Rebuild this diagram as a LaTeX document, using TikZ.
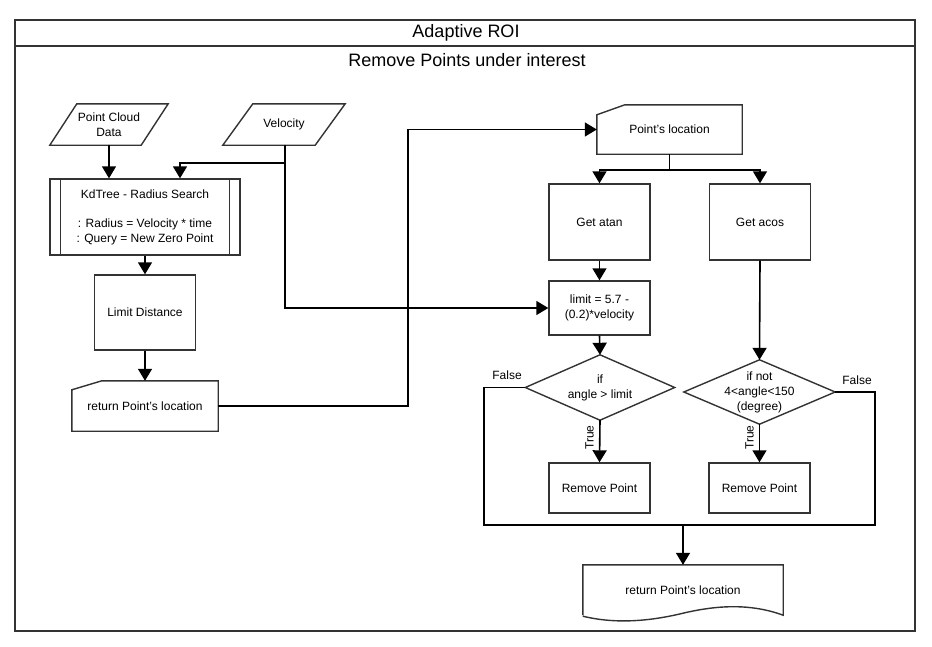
\documentclass[tikz,border=0pt]{standalone}
\usepackage{fontspec}
\setmainfont{Liberation Sans}
\usetikzlibrary{arrows.meta,calc}
\definecolor{edge}{HTML}{333333}
\begin{document}
\begin{tikzpicture}[x=1pt,y=-1pt,
  shp/.style={draw=edge, line width=1.4pt},
  txt/.style={font=\fontsize{12}{15}\selectfont, align=center, inner sep=0pt},
  box/.style={shp, txt, rectangle},
  con/.style={line width=1.6pt, draw=black, -{Triangle[width=14pt,length=12pt]}},
  ln/.style={line width=1.6pt, draw=black},
  lbl/.style={font=\fontsize{12}{14}\selectfont, inner sep=0pt},
  ttl/.style={font=\fontsize{18}{20}\selectfont, inner sep=0pt},
]
\useasboundingbox (0,0) rectangle (932,646);
\fill[white] (0,0) rectangle (932,646);

% frame
\draw[line width=1.6pt, draw=edge] (15,20) rectangle (915,631);
\draw[line width=1.6pt, draw=edge] (15,46) -- (915,46);
\node[ttl] (title) at (466,33) {Adaptive ROI};
\node[ttl] (sub) at (467,60) {Remove Points under interest};

% left column
\node[txt, minimum width=118, minimum height=41] (pcd) at (109,124.5) {Point Cloud\\Data};
\draw[shp] ([xshift=27pt]pcd.north west) -- (pcd.north east) -- ([xshift=-27pt]pcd.south east) -- (pcd.south west) -- cycle;

\node[txt, minimum width=122, minimum height=41] (vel) at (284,124.5) {Velocity};
\draw[shp] ([xshift=30pt]vel.north west) -- (vel.north east) -- ([xshift=-30pt]vel.south east) -- (vel.south west) -- cycle;

\node[box, minimum width=190, minimum height=76] (kd) at (145,217)
  {KdTree - Radius Search\\[14pt]: Radius = Velocity * time\\: Query = New Zero Point};
\draw[shp] ([xshift=11pt]kd.north west) -- ([xshift=11pt]kd.south west);
\draw[shp] ([xshift=-11pt]kd.north east) -- ([xshift=-11pt]kd.south east);

\node[box, minimum width=101, minimum height=75] (lim) at (145,312.5) {Limit Distance};

\node[txt, minimum width=146, minimum height=50] (ret1) at (145,406) {return Point's location};
\draw[shp] ([yshift=-9pt]ret1.north west) -- ([xshift=30pt]ret1.north west) -- (ret1.north east) -- (ret1.south east) -- (ret1.south west) -- cycle;

% right part
\node[txt, minimum width=145, minimum height=49] (ploc) at (669.5,129.5) {Point's location};
\draw[shp] ([yshift=-10pt]ploc.north west) -- ([xshift=28pt]ploc.north west) -- (ploc.north east) -- (ploc.south east) -- (ploc.south west) -- cycle;

\node[box, minimum width=101, minimum height=76] (atan) at (599.5,222) {Get atan};
\node[box, minimum width=101, minimum height=76] (acos) at (760,222) {Get acos};

\node[box, minimum width=101, minimum height=54] (limit) at (599.5,308) {limit = 5.7 -\\(0.2)*velocity};

\node[txt, minimum width=149, minimum height=65] (d1) at (600,387.5) {if\\angle \textgreater{} limit};
\draw[shp] (d1.north) -- (d1.east) -- (d1.south) -- (d1.west) -- cycle;

\node[txt, minimum width=151, minimum height=64] (d2) at (759.5,392) {if not\\4\textless{}angle\textless{}150\\(degree)};
\draw[shp] (d2.north) -- (d2.east) -- (d2.south) -- (d2.west) -- cycle;

\node[box, minimum width=101, minimum height=50] (rm1) at (599.5,488) {Remove Point};
\node[box, minimum width=101, minimum height=50] (rm2) at (759.5,488) {Remove Point};

\node[txt, minimum width=200, minimum height=50] (ret2) at (683,590) {return Point's location};
\draw[shp] (ret2.south west) -- (ret2.north west) -- (ret2.north east) -- ([yshift=0pt]ret2.south east)
  .. controls +(-33,-12) and +(34,-8) .. ([yshift=2pt]ret2.south)
  .. controls +(-33,8) and +(33,8) .. ([yshift=-1pt]ret2.south west);

% connectors
\draw[con] (pcd.south) -- (pcd.south |- kd.north);
\coordinate (vb) at ($(vel.south)+(1,18)$);
\draw[ln] ($(vel.south)+(1,0)$) -- (vb);
\draw[con] ($(vel.south)+(1,0)$) |- (limit.west);
\draw[con] (vb) -| ([xshift=35pt]kd.north);
\draw[con] (kd.south) -- (lim.north);
\draw[con] (lim.south) -- (ret1.north);
\draw[con] (ret1.east) -- ++(190,0) |- (ploc.west);

\coordinate (sp) at ($(ploc.south)+(0,16)$);
\draw[ln] (ploc.south) -- (sp);
\draw[con] (sp) -| (atan.north);
\draw[con] (sp) -| (acos.north);
\draw[con] (atan.south) -- (limit.north);
\draw[con] (limit.south) -- (d1.north);
\draw[con] (acos.south) -- (d2.north);
\draw[con] (d1.south) -- (rm1.north);
\draw[con] (d2.south) -- (rm2.north);

\coordinate (fl) at (484,525);
\coordinate (fr) at (875,525);
\coordinate (mj) at (683,525);
\draw[ln] (d1.west) -| (fl) -- (fr) |- (d2.east);
\draw[con] (mj) -- (ret2.north);

% labels
\node[lbl] (f1) at (507,375) {False};
\node[lbl] (f2) at (857,380) {False};
\node[lbl, rotate=90] (t1) at (589.5,437.5) {True};
\node[lbl, rotate=90] (t2) at (749.5,437.5) {True};
\end{tikzpicture}
\end{document}
